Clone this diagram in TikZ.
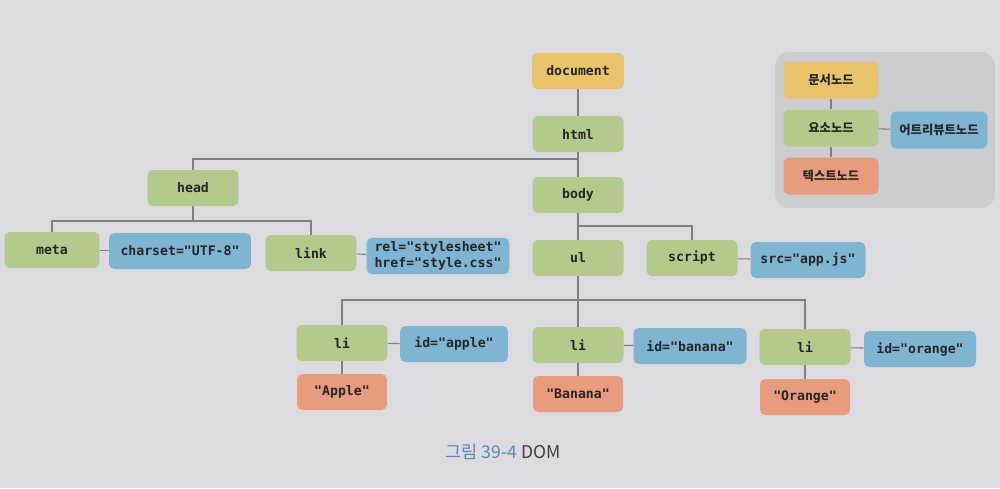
\documentclass[tikz,border=0pt]{standalone}
\usepackage{fontspec}
\setmainfont{DejaVu Sans}
\newfontfamily\monof{DejaVu Sans Mono}
\newfontfamily\krf{Noto Sans CJK KR}
\definecolor{bgc}{HTML}{DCDBDF}
\definecolor{docc}{HTML}{E9C46C}
\definecolor{elc}{HTML}{B4C98C}
\definecolor{atc}{HTML}{7FB4D2}
\definecolor{txc}{HTML}{E89B7D}
\definecolor{lnc}{HTML}{7E7E86}
\definecolor{legc}{HTML}{CDCDD1}
\definecolor{capc}{HTML}{5B87B8}
\begin{document}
\begin{tikzpicture}[x=0.02cm,y=-0.02cm,
  box/.style={rounded corners=3pt, minimum height=0.72cm, inner sep=2pt, text=black!85,
    font=\monof\bfseries\fontsize{7.5}{8.5}\selectfont, align=center},
  elbox/.style={box, fill=elc, minimum width=1.82cm},
  atbox/.style={box, fill=atc},
  txbox/.style={box, fill=txc, minimum width=1.8cm},
  docbox/.style={box, fill=docc, minimum width=1.84cm},
  legbox/.style={box, font=\krf\bfseries\fontsize{7}{8}\selectfont, minimum width=1.9cm, minimum height=0.74cm},
  conn/.style={draw=lnc, line width=0.6pt}]
\path[fill=bgc] (0,0) rectangle (1000,488);
\fill[legc, rounded corners=8pt] (775,52) rectangle (995,208);
% legend
\node[legbox, fill=docc] (l1) at (831,80) {문서노드};
\node[legbox, fill=elc] (l2) at (831,128) {요소노드};
\node[legbox, fill=atc, minimum width=1.94cm] (l3) at (939,130) {어트리뷰트노드};
\node[legbox, fill=txc] (l4) at (831,176) {텍스트노드};
\draw[conn] (l1) -- (l2);
\draw[conn] (l2) -- (l3);
\draw[conn] (l2) -- (l4);
% tree nodes
\node[docbox] (doc) at (578,71) {document};
\node[elbox] (html) at (578,134) {html};
\node[elbox] (body) at (578,195) {body};
\node[elbox] (head) at (193,188) {head};
\node[elbox, minimum width=1.9cm] (meta) at (52,250) {meta};
\node[atbox, minimum width=2.84cm] (charset) at (180,251) {charset="UTF-8"};
\node[elbox] (link) at (311,253) {link};
\node[atbox, minimum width=2.86cm, font=\monof\bfseries\fontsize{7.5}{9.5}\selectfont] (rel) at (438,256) {rel="stylesheet"\\href="style.css"};
\node[elbox] (ul) at (578,258) {ul};
\node[elbox] (script) at (692,258) {script};
\node[atbox, minimum width=2.3cm] (src) at (808,260) {src="app.js"};
\node[elbox] (li1) at (342,343) {li};
\node[atbox, minimum width=2.16cm] (ida) at (454,344) {id="apple"};
\node[elbox] (li2) at (578,345) {li};
\node[atbox, minimum width=2.26cm] (idb) at (690,346) {id="banana"};
\node[elbox] (li3) at (805,347) {li};
\node[atbox, minimum width=2.24cm] (ido) at (920,349) {id="orange"};
\node[txbox] (t1) at (342,392) {"Apple"};
\node[txbox] (t2) at (578,394) {"Banana"};
\node[txbox] (t3) at (805,397) {"Orange"};
% bus coordinates
\coordinate (bus1) at (0,159);
\coordinate (bus2) at (0,221);
\coordinate (bus3) at (0,226);
\coordinate (bus4) at (0,300);
% connectors
\draw[conn] (doc) -- (html);
\draw[conn] (html) -- (body);
\draw[conn] (html.south |- bus1) -| (head.north);
\draw[conn] (head.south) -- (head.south |- bus2);
\draw[conn] (meta.north) |- (link.north |- bus2) -- (link.north);
\draw[conn] (body) -- (ul);
\draw[conn] (body.south |- bus3) -| (script.north);
\draw[conn] (ul.south) -- (li2.north);
\draw[conn] (li1.north) |- (li3.north |- bus4) -- (li3.north);
\draw[conn] (meta) -- (charset);
\draw[conn] (link) -- (rel);
\draw[conn] (script) -- (src);
\draw[conn] (li1) -- (ida);
\draw[conn] (li2) -- (idb);
\draw[conn] (li3) -- (ido);
\draw[conn] (li1) -- (t1);
\draw[conn] (li2) -- (t2);
\draw[conn] (li3) -- (t3);
% caption
\node[font=\krf\fontsize{10}{12}\selectfont, inner sep=0pt] (cap) at (503,452) {\textcolor{capc}{그림 39-4} \textcolor{black!75}{DOM}};
\end{tikzpicture}
\end{document}
